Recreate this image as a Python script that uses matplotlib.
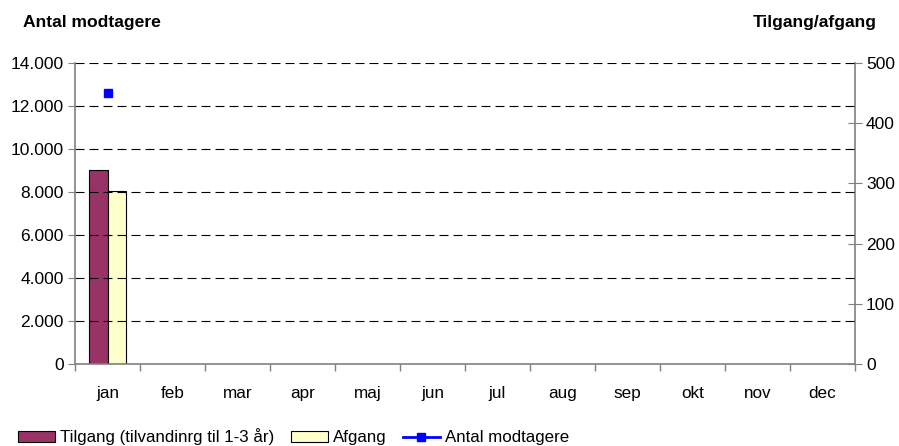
import matplotlib
matplotlib.use("Agg")
import matplotlib.pyplot as plt
import numpy as np
from matplotlib.patches import Patch
from matplotlib.lines import Line2D
from matplotlib.ticker import FuncFormatter, FixedLocator

plt.rcParams['font.family'] = ['Liberation Sans', 'DejaVu Sans']

months = ['jan', 'feb', 'mar', 'apr', 'maj', 'jun', 'jul', 'aug', 'sep', 'okt', 'nov', 'dec']
tilgang = [322] + [np.nan] * 11
afgang = [287] + [np.nan] * 11
antal = [12600] + [np.nan] * 11

W, H = 899, 446
fig = plt.figure(figsize=(W / 100, H / 100), dpi=100)
l, r, t, b = 75, 855, 63, 364
ax = fig.add_axes([l / W, (H - b) / H, (r - l) / W, (b - t) / H])
ax2 = ax.twinx()

x = np.arange(len(months))
bw = 0.28
ax2.bar(x - bw / 2, tilgang, bw, color='#993366', edgecolor='black', linewidth=0.8, zorder=3)
ax2.bar(x + bw / 2, afgang, bw, color='#FFFFCC', edgecolor='black', linewidth=0.8, zorder=3)
ax.plot(x, antal, color='#0000FF', marker='s', markersize=6, linewidth=2, zorder=4)

ax.set_xlim(-0.5, 11.5)
ax.set_ylim(0, 14000)
ax2.set_ylim(0, 500)
ax.set_yticks(np.arange(0, 14001, 2000))
ax.yaxis.set_major_formatter(FuncFormatter(lambda v, p: f"{int(v):,}".replace(',', '.')))
ax2.set_yticks(np.arange(0, 501, 100))

ax.set_xticks(x)
ax.set_xticklabels(months)
ax.xaxis.set_minor_locator(FixedLocator(np.arange(-0.5, 12, 1)))
ax.tick_params(axis='x', which='major', length=0, pad=16, labelsize=12.3)
ax.tick_params(axis='x', which='minor', length=5, color='#808080', width=1)
ax.tick_params(axis='y', length=5, color='#808080', labelsize=12.5, pad=3)
ax2.tick_params(axis='y', direction='inout', length=10, color='#808080', labelsize=12.5, pad=3)

for a in (ax, ax2):
    a.spines['top'].set_visible(False)
    for s in ('left', 'right', 'bottom'):
        a.spines[s].set_color('#808080')
        a.spines[s].set_linewidth(1.2)
ax.spines['right'].set_visible(False)
ax2.spines['left'].set_visible(False)
ax2.spines['bottom'].set_visible(False)

for v in np.arange(2000, 14001, 2000):
    ax.axhline(v, color='black', linestyle=(0, (8.1, 4.5)), linewidth=0.8, zorder=1)

ax.set_zorder(ax2.get_zorder() + 1)
ax.patch.set_visible(False)

fig.text(23 / W, 1 - 22 / H, 'Antal modtagere', fontsize=12.6, fontweight='bold', va='center', ha='left')
fig.text(877 / W, 1 - 22 / H, 'Tilgang/afgang', fontsize=12.6, fontweight='bold', va='center', ha='right')

handles = [
    Patch(facecolor='#993366', edgecolor='black', linewidth=0.8),
    Patch(facecolor='#FFFFCC', edgecolor='black', linewidth=0.8),
    Line2D([0], [0], color='#0000FF', marker='s', markersize=6, linewidth=2),
]
labels = ['Tilgang (tilvandinrg til 1-3 år)', 'Afgang', 'Antal modtagere']
fig.legend(handles, labels, loc='center left', bbox_to_anchor=(18 / W, 1 - 437 / H), ncol=3,
           frameon=False, fontsize=12.2, handlelength=2.2, handleheight=0.6, handletextpad=0.3,
           columnspacing=0.95, borderpad=0, borderaxespad=0)

fig.savefig('out.png', dpi=100)
